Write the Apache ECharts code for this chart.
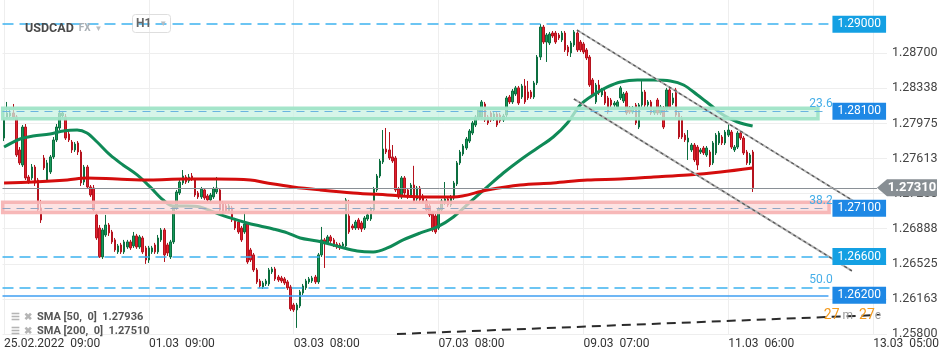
<!DOCTYPE html>
<html><head><meta charset="utf-8">
<script src="https://cdn.jsdelivr.net/npm/echarts@6/dist/echarts.min.js"></script>
<style>html,body{margin:0;padding:0;background:#fff}#c{width:950px;height:360px}</style>
</head><body><div id="c"></div>
<script>
// ---------- data ----------
const instrument = 'USDCAD';
const tickIndex = [0, 47, 94, 141, 188, 235, 282];
const tickLabels = ['25.02.2022  09:00', '01.03  09:00', '03.03  08:00', '07.03  08:00', '09.03  07:00', '11.03  06:00', '13.03  05:00'];
const yTicks = [1.25800, 1.26163, 1.26525, 1.26888, 1.27250, 1.27613, 1.27975, 1.28338, 1.28700];
// [open, close, low, high]
const candles = [
[1.27824,1.28011,1.27793,1.28083],[1.28031,1.28083,1.28021,1.28197],[1.28052,1.28083,1.28031,1.28135],[1.28083,1.28042,1.28021,1.28176],
[1.28042,1.27649,1.27629,1.28062],[1.27701,1.27567,1.27546,1.27731],[1.27546,1.27938,1.27525,1.27959],[1.27938,1.27412,1.27391,1.27969],
[1.27422,1.27381,1.27350,1.27443],[1.27412,1.27525,1.27391,1.27556],[1.27525,1.27360,1.27329,1.27546],[1.27391,1.27081,1.27061,1.27412],
[1.27102,1.26978,1.26947,1.27185],[1.27618,1.27515,1.27494,1.27649],[1.27391,1.27567,1.27370,1.27598],[1.27474,1.27629,1.27453,1.27649],
[1.27629,1.27804,1.27608,1.27835],[1.27804,1.27938,1.27783,1.27969],[1.27928,1.28083,1.27907,1.28114],[1.28052,1.28083,1.28031,1.28104],
[1.28042,1.27824,1.27804,1.28073],[1.27866,1.27804,1.27783,1.27897],[1.27783,1.27701,1.27670,1.27804],[1.27701,1.27762,1.27680,1.27783],
[1.27773,1.27680,1.27649,1.27793],[1.27680,1.27360,1.27329,1.27701],[1.27370,1.27525,1.27339,1.27546],[1.27525,1.27319,1.27298,1.27546],
[1.27319,1.27236,1.27216,1.27339],[1.27308,1.27081,1.27061,1.27339],[1.27030,1.26792,1.26772,1.27061],[1.26895,1.26596,1.26586,1.26926],
[1.26596,1.26875,1.26575,1.26895],[1.26823,1.26926,1.26803,1.27030],[1.26926,1.26844,1.26813,1.26947],[1.26854,1.26751,1.26730,1.26875],
[1.26772,1.26668,1.26648,1.26792],[1.26648,1.26710,1.26627,1.26730],[1.26720,1.26648,1.26627,1.26741],[1.26648,1.26751,1.26627,1.26772],
[1.26699,1.26751,1.26679,1.26772],[1.26751,1.26689,1.26668,1.26772],[1.26710,1.26813,1.26689,1.26854],[1.26813,1.26699,1.26679,1.26834],
[1.26699,1.26803,1.26679,1.26823],[1.26792,1.26648,1.26627,1.26813],[1.26689,1.26565,1.26524,1.26710],[1.26565,1.26689,1.26534,1.26710],
[1.26648,1.26689,1.26627,1.26710],[1.26720,1.26648,1.26627,1.26741],[1.26648,1.26792,1.26627,1.26823],[1.26772,1.26875,1.26751,1.26895],
[1.26875,1.26617,1.26544,1.26895],[1.26720,1.26637,1.26606,1.26741],[1.26596,1.26751,1.26575,1.26772],[1.26751,1.27112,1.26730,1.27133],
[1.27102,1.27267,1.27081,1.27288],[1.27257,1.27370,1.27236,1.27391],[1.27360,1.27432,1.27339,1.27494],[1.27422,1.27370,1.27350,1.27443],
[1.27381,1.27422,1.27360,1.27453],[1.27432,1.27401,1.27381,1.27463],[1.27391,1.27236,1.27216,1.27412],[1.27257,1.27216,1.27195,1.27277],
[1.27216,1.27298,1.27195,1.27319],[1.27288,1.27205,1.27185,1.27308],[1.27226,1.27185,1.27164,1.27246],[1.27185,1.27236,1.27164,1.27257],
[1.27216,1.27298,1.27195,1.27319],[1.27267,1.27308,1.27246,1.27422],[1.27288,1.27081,1.27061,1.27308],[1.27154,1.27050,1.27030,1.27174],
[1.27123,1.27071,1.27050,1.27143],[1.27071,1.27123,1.27050,1.27143],[1.27102,1.26978,1.26957,1.27123],[1.26978,1.26895,1.26875,1.26999],
[1.26957,1.26854,1.26834,1.26978],[1.26895,1.26772,1.26751,1.26916],[1.26854,1.26937,1.26834,1.27061],[1.26937,1.26544,1.26524,1.26957],
[1.26668,1.26565,1.26544,1.26689],[1.26617,1.26462,1.26441,1.26637],[1.26462,1.26338,1.26317,1.26482],[1.26348,1.26296,1.26276,1.26369],
[1.26286,1.26327,1.26265,1.26348],[1.26317,1.26348,1.26296,1.26369],[1.26317,1.26462,1.26296,1.26482],[1.26441,1.26472,1.26420,1.26493],
[1.26472,1.26369,1.26348,1.26493],[1.26389,1.26358,1.26338,1.26410],[1.26379,1.26348,1.26327,1.26400],[1.26369,1.26327,1.26307,1.26389],
[1.26338,1.26276,1.26255,1.26358],[1.26286,1.26059,1.26038,1.26307],[1.26100,1.26049,1.26028,1.26121],[1.26049,1.26100,1.25863,1.26121],
[1.26090,1.26235,1.26069,1.26255],[1.26224,1.26296,1.26203,1.26317],[1.26276,1.26348,1.26255,1.26369],[1.26338,1.26369,1.26317,1.26389],
[1.26348,1.26379,1.26327,1.26400],[1.26389,1.26338,1.26317,1.26410],[1.26338,1.26617,1.26317,1.26637],[1.26617,1.26772,1.26596,1.26906],
[1.26772,1.26741,1.26482,1.26792],[1.26741,1.26803,1.26720,1.26823],[1.26803,1.26761,1.26741,1.26823],[1.26772,1.26720,1.26699,1.26792],
[1.26730,1.26699,1.26679,1.26751],[1.26720,1.26689,1.26668,1.26741],[1.26710,1.26730,1.26679,1.26751],[1.26710,1.27185,1.26689,1.27205],
[1.27019,1.26854,1.26834,1.27185],[1.26916,1.26895,1.26875,1.26937],[1.26895,1.26957,1.26875,1.26978],[1.26978,1.26895,1.26875,1.26999],
[1.26947,1.26885,1.26854,1.26968],[1.26895,1.26999,1.26875,1.27019],[1.26988,1.27030,1.26968,1.27050],[1.26988,1.27092,1.26968,1.27112],
[1.27081,1.27298,1.27061,1.27319],[1.27288,1.27432,1.27267,1.27453],[1.27432,1.27587,1.27412,1.27608],[1.27577,1.27711,1.27556,1.27907],
[1.27711,1.27680,1.27659,1.27928],[1.27701,1.27618,1.27598,1.27886],[1.27629,1.27587,1.27567,1.27752],[1.27618,1.27288,1.27267,1.27639],
[1.27298,1.27216,1.27195,1.27319],[1.27216,1.27412,1.27195,1.27432],[1.27412,1.27257,1.27236,1.27432],[1.27288,1.27216,1.27195,1.27308],
[1.27226,1.27339,1.27205,1.27360],[1.27339,1.27174,1.27154,1.27537],[1.27195,1.27308,1.27174,1.27329],[1.27308,1.27185,1.27164,1.27329],
[1.27226,1.27164,1.27143,1.27246],[1.27174,1.27081,1.27061,1.27195],[1.27123,1.27030,1.27009,1.27143],[1.27050,1.26875,1.26854,1.27071],
[1.27019,1.26854,1.26834,1.27040],[1.26895,1.27092,1.26875,1.27112],[1.27081,1.27174,1.27061,1.27195],[1.27154,1.27195,1.27133,1.27370],
[1.27195,1.27133,1.27112,1.27216],[1.27133,1.27216,1.27112,1.27236],[1.27205,1.27360,1.27185,1.27381],[1.27350,1.27567,1.27329,1.27587],
[1.27567,1.27680,1.27546,1.27701],[1.27659,1.27742,1.27639,1.27762],[1.27721,1.27814,1.27701,1.27835],[1.27793,1.27897,1.27773,1.27917],
[1.27876,1.27980,1.27855,1.28000],[1.27959,1.28042,1.27938,1.28062],[1.28031,1.28114,1.28011,1.28135],[1.28042,1.28197,1.28021,1.28217],
[1.28176,1.28011,1.27990,1.28197],[1.28042,1.27980,1.27959,1.28062],[1.28083,1.28011,1.27990,1.28104],[1.28021,1.28073,1.28000,1.28093],
[1.28073,1.27959,1.27938,1.28093],[1.28062,1.28000,1.27980,1.28083],[1.28011,1.28052,1.27990,1.28073],[1.28062,1.28238,1.28042,1.28259],
[1.28248,1.28197,1.28176,1.28269],[1.28197,1.28310,1.28176,1.28331],[1.28279,1.28342,1.28259,1.28362],[1.28342,1.28186,1.28166,1.28362],
[1.28248,1.28362,1.28228,1.28383],[1.28362,1.28197,1.28176,1.28434],[1.28300,1.28238,1.28217,1.28414],[1.28300,1.28248,1.28228,1.28321],
[1.28248,1.28393,1.28228,1.28414],[1.28393,1.28661,1.28372,1.28682],[1.28661,1.28971,1.28630,1.29002],[1.28971,1.28816,1.28796,1.28992],
[1.28816,1.28889,1.28610,1.28909],[1.28806,1.28899,1.28785,1.28920],[1.28909,1.28878,1.28858,1.28930],[1.28909,1.28816,1.28796,1.28930],
[1.28889,1.28858,1.28837,1.28909],[1.28837,1.28909,1.28816,1.28930],[1.28909,1.28734,1.28713,1.28930],[1.28765,1.28713,1.28672,1.28785],
[1.28703,1.28806,1.28661,1.28827],[1.28785,1.28920,1.28765,1.28940],[1.28909,1.28734,1.28713,1.28930],[1.28816,1.28734,1.28713,1.28837],
[1.28796,1.28713,1.28692,1.28816],[1.28734,1.28651,1.28630,1.28754],[1.28661,1.28372,1.28352,1.28682],[1.28424,1.28269,1.28248,1.28444],
[1.28197,1.28372,1.28176,1.28393],[1.28372,1.28290,1.28269,1.28424],[1.28269,1.28321,1.28248,1.28342],[1.28300,1.28186,1.28166,1.28321],
[1.28238,1.28093,1.28073,1.28259],[1.28217,1.28166,1.28145,1.28238],[1.28166,1.28186,1.28145,1.28207],[1.28145,1.28197,1.28124,1.28217],
[1.28238,1.28342,1.28217,1.28362],[1.28207,1.28279,1.28186,1.28300],[1.28290,1.28083,1.28062,1.28310],[1.28135,1.28093,1.28073,1.28155],
[1.28093,1.28135,1.28073,1.28155],[1.28166,1.27980,1.27959,1.28186],[1.27938,1.28166,1.27917,1.28186],[1.28166,1.28300,1.28145,1.28424],
[1.28300,1.28166,1.28145,1.28321],[1.28166,1.28197,1.28145,1.28217],[1.28197,1.28083,1.28062,1.28217],[1.28083,1.28114,1.28062,1.28135],
[1.28217,1.28083,1.28062,1.28238],[1.28083,1.28145,1.28062,1.28166],[1.28135,1.27938,1.27917,1.28155],[1.28114,1.28321,1.28093,1.28342],
[1.28321,1.28145,1.28124,1.28342],[1.28186,1.28238,1.28166,1.28290],[1.28321,1.28062,1.28042,1.28342],[1.28083,1.27835,1.27814,1.28104],
[1.28031,1.27835,1.27814,1.28052],[1.27855,1.27804,1.27783,1.27876],[1.27783,1.27824,1.27598,1.27907],[1.27701,1.27752,1.27680,1.27773],
[1.27752,1.27598,1.27577,1.27773],[1.27731,1.27546,1.27494,1.27752],[1.27680,1.27701,1.27659,1.27721],[1.27721,1.27670,1.27649,1.27742],
[1.27649,1.27721,1.27629,1.27742],[1.27680,1.27546,1.27525,1.27701],[1.27567,1.27773,1.27546,1.27793],[1.27670,1.27855,1.27649,1.27876],
[1.27773,1.27876,1.27752,1.27897],[1.27835,1.27773,1.27752,1.27855],[1.27773,1.27886,1.27752,1.27907],[1.27855,1.27907,1.27835,1.27969],
[1.27886,1.27731,1.27711,1.27907],[1.27701,1.27731,1.27680,1.27752],[1.27731,1.27876,1.27711,1.27897],[1.27876,1.27824,1.27804,1.27897],
[1.27824,1.27670,1.27649,1.27845],[1.27680,1.27567,1.27546,1.27701],[1.27567,1.27649,1.27546,1.27670],[1.27680,1.27310,1.27267,1.27701]
];
// [bar index, value]
const sma50 = [[0,1.27731],[5.2,1.27814],[9.4,1.27845],[14.9,1.27866],[19.2,1.27897],[23.7,1.27907],[26.9,1.27876],[30.2,1.27783],
[34.4,1.27649],[38.6,1.27546],[43.2,1.27443],[47.4,1.27319],[51.6,1.27185],[54.9,1.27123],[59.4,1.27123],[63.6,1.27112],[67.9,1.27061],
[73.4,1.26999],[78.9,1.26947],[83.1,1.26916],[87.3,1.26885],[91.9,1.26844],[96.1,1.26792],[101.6,1.26761],[109.1,1.26699],[114.6,1.26658],
[119.8,1.26648],[124.4,1.26689],[129.5,1.26772],[135.1,1.26844],[140.6,1.26906],[145.8,1.27009],[151.3,1.27164],[156.8,1.27319],
[162,1.27463],[167.5,1.27598],[173.1,1.27721],[178.2,1.27835],[182.8,1.27980],[187,1.28166],[191.2,1.28269],[195.8,1.28352],[200,1.28403],
[205.5,1.28424],[210.7,1.28424],[216.2,1.28414],[220.5,1.28372],[225,1.28269],[229.2,1.28166],[233.4,1.28062],[238,1.27990],[242.9,1.27948]];
const sma200 = [[0,1.27360],[9.4,1.27370],[20.5,1.27391],[26.9,1.27412],[36.7,1.27401],[47.4,1.27391],[58.1,1.27401],[69.2,1.27401],
[79.9,1.27391],[85.4,1.27360],[93.8,1.27319],[102.6,1.27288],[113.3,1.27257],[124.4,1.27236],[135.1,1.27216],[145.8,1.27216],
[156.8,1.27288],[167.5,1.27339],[178.2,1.27360],[189.3,1.27391],[200,1.27401],[210.7,1.27422],[221.8,1.27443],[232.5,1.27474],[242.9,1.27515]];
const levels = [1.29000, 1.28100, 1.27100, 1.26600, 1.26200];
const fibValues = [1.28100, 1.27100, 1.26280];
const fibLabels = ['23.6', '38.2', '50.0'];
const greenZone = [1.28132, 1.28024];
const redZone = [1.27161, 1.27054];
const channelUpper = [[185.9, 1.28940], [277.2, 1.27143]];
const channelLower = [[184.9, 1.28228], [275.1, 1.26452]];
const supportLine = [[127.5, 1.25800], [284.2, 1.25997]];
const smaLegend = [['SMA [50,  0]', '1.27936'], ['SMA [200,  0]', '1.27510']];
const timerText = ['27', 'm', '27', 'e'];

// ---------- layout helpers ----------
const N = 287;
const lastPrice = candles[candles.length - 1][1];
const levelEnd = 267.5, fib50End = 269.5, lastLineEnd = 283.25;
const zoneStart = -0.45, greenZoneEnd = 264.1, redZoneEnd = 267.7;
const fibLabelAt = 265.1;
const FONT = 'Roboto';

const lvlStyle = [
  {type: [11, 6], color: '#3db2ef', tag: '#14a0e3', width: 1.5},
  {type: [8, 6], color: '#6ab4e0', tag: '#1e88e5', width: 1.2},
  {type: [8, 6], color: '#8fa6c4', tag: '#1e88e5', width: 1.2},
  {type: [11, 6], color: '#3db2ef', tag: '#14a0e3', width: 1.5},
  {type: 'solid', color: '#3f9ff2', tag: '#1e88e5', width: 1.5}
];

const levelLines = levels.map((v, k) => [
  {coord: [-0.5, v], lineStyle: {color: lvlStyle[k].color, type: lvlStyle[k].type, width: lvlStyle[k].width},
   label: {show: true, position: 'end', distance: 4, formatter: v.toFixed(5), color: '#fff',
           backgroundColor: lvlStyle[k].tag, padding: [3, 5, 2, 5], fontSize: 12, fontFamily: FONT}},
  {coord: [levelEnd, v]}
]);
levelLines.push([
  {coord: [-0.5, fibValues[2]], lineStyle: {color: '#3db2ef', type: [11, 6], width: 1.5}, label: {show: false}},
  {coord: [fib50End, fibValues[2]]}
]);
levelLines.push([
  {coord: [-0.5, lastPrice], lineStyle: {color: '#8a9096', type: 'solid', width: 1}, label: {show: false}},
  {coord: [lastLineEnd, lastPrice]}
]);

const fibPoints = fibValues.map((v, k) => ({
  coord: [fibLabelAt, v], symbol: 'circle', symbolSize: 1, itemStyle: {color: 'rgba(0,0,0,0)'},
  label: {show: true, position: 'top', distance: 1, formatter: fibLabels[k], color: '#45aee8', fontSize: 12, fontFamily: FONT}
}));
const priceTag = {
  coord: [lastLineEnd, lastPrice], symbol: 'path://M0,8L10,0L60,0L60,16L10,16Z', symbolSize: [60, 17], symbolOffset: [30, 0],
  symbolKeepAspect: false, itemStyle: {color: '#878e93'},
  label: {show: true, position: 'inside', offset: [5, 0], formatter: lastPrice.toFixed(5), color: '#fff', fontWeight: 'bold', fontSize: 13, fontFamily: FONT}
};

const chart = echarts.init(document.getElementById('c'), null, {renderer: 'canvas'});
chart.setOption({
  animation: false,
  backgroundColor: '#fff',
  textStyle: {fontFamily: FONT},
  title: [
    {left: 20, top: 17, text: '{a|' + instrument + '}{b|  FX}{c|  ▼}',
     textStyle: {rich: {a: {fontSize: 12.5, fontWeight: 'bold', color: '#4a4a4a', fontFamily: FONT},
                        b: {fontSize: 10, color: '#aab0b5', fontFamily: FONT}, c: {fontSize: 8, color: '#b8bcc0'}}}},
    {left: 132, top: 14, text: '{a|H1}{c|    ▼}', borderColor: '#dedede', borderWidth: 1, borderRadius: 3, padding: [4, 4, 3, 4],
     textStyle: {rich: {a: {fontSize: 12, color: '#666', fontFamily: FONT}, c: {fontSize: 8, color: '#b8bcc0'}}}},
    {left: 6, top: 305,
     text: smaLegend.map(r => '{i|☰} {x|✖} {t|' + r[0] + '  ' + r[1] + '}').join('\n'),
     textStyle: {lineHeight: 14, rich: {i: {fontSize: 10, color: '#b5b5b5', lineHeight: 14}, x: {fontSize: 10, color: '#b5b5b5', lineHeight: 14},
                 t: {fontSize: 11, color: '#555', fontFamily: FONT, lineHeight: 14}}}}
  ],
  grid: {left: 2.5, right: 63, top: 0, bottom: 26},
  xAxis: [
    {type: 'category', data: Array.from({length: N}, (_, i) => i), boundaryGap: true, show: false, position: 'bottom'},
    {type: 'value', min: -0.5, max: N - 0.5, position: 'bottom',
     axisLine: {show: false}, axisTick: {show: false, customValues: tickIndex},
     axisLabel: {customValues: tickIndex, formatter: v => tickLabels[tickIndex.indexOf(Math.round(v))] || '',
                 align: 'left', color: '#333', fontSize: 12, margin: 4, fontFamily: FONT},
     splitLine: {show: true, lineStyle: {color: '#eeeeee', width: 1}}}
  ],
  yAxis: {type: 'value', position: 'right', min: 1.258, max: 1.2925, scale: true,
    axisLine: {show: false}, axisTick: {show: false, customValues: yTicks},
    axisLabel: {customValues: yTicks, formatter: v => v.toFixed(5), color: '#444', fontSize: 12.5, margin: 5, fontFamily: FONT},
    splitLine: {show: true, lineStyle: {color: '#eeeeee', width: 1}}},
  series: [
    {type: 'candlestick', xAxisIndex: 0, yAxisIndex: 0, data: candles, barWidth: 2, z: 2,
     itemStyle: {color: '#17995a', color0: '#e2202e', borderColor: '#0c6e3f', borderColor0: '#b5131e', borderWidth: 1}},
    {type: 'line', name: 'SMA50', xAxisIndex: 1, data: sma50, showSymbol: false, symbol: 'none', smooth: 0.35, z: 3,
     lineStyle: {color: '#0f8a57', width: 3}},
    {type: 'line', name: 'SMA200', xAxisIndex: 1, data: sma200, showSymbol: false, symbol: 'none', smooth: 0.35, z: 3,
     lineStyle: {color: '#d40d0d', width: 3}},
    {type: 'line', xAxisIndex: 1, data: [], z: 4, clip: false,
     markArea: {silent: true, z: 4, data: [
       [{coord: [zoneStart, greenZone[0]], itemStyle: {color: 'rgba(200,242,225,0.75)', borderColor: 'rgba(160,228,199,0.95)', borderWidth: 3.5}},
        {coord: [greenZoneEnd, greenZone[1]]}],
       [{coord: [zoneStart, redZone[0]], itemStyle: {color: 'rgba(252,218,218,0.75)', borderColor: 'rgba(247,180,180,0.95)', borderWidth: 3.5}},
        {coord: [redZoneEnd, redZone[1]]}]
     ]}},
    {type: 'line', xAxisIndex: 1, data: channelUpper, showSymbol: false, symbol: 'none', z: 5, lineStyle: {color: '#b3b3b3', width: 2}},
    {type: 'line', xAxisIndex: 1, data: channelUpper, showSymbol: false, symbol: 'none', z: 5, lineStyle: {color: '#555', width: 1.2, type: [3, 3]}},
    {type: 'line', xAxisIndex: 1, data: channelLower, showSymbol: false, symbol: 'none', z: 5, lineStyle: {color: '#b3b3b3', width: 2}},
    {type: 'line', xAxisIndex: 1, data: channelLower, showSymbol: false, symbol: 'none', z: 5, lineStyle: {color: '#555', width: 1.2, type: [3, 3]}},
    {type: 'line', xAxisIndex: 1, data: supportLine, showSymbol: false, symbol: 'none', z: 5, clip: false,
     lineStyle: {color: '#2b2b2b', width: 2, type: [9, 6]},
     markPoint: {z: 7, silent: true, data: [{
       coord: [275.3, 1.25987], symbol: 'circle', symbolSize: 1, itemStyle: {color: 'rgba(0,0,0,0)'},
       label: {show: true, position: 'inside', formatter: '{o|' + timerText[0] + '}{g| ' + timerText[1] + '  }{o|' + timerText[2] + '}{g|' + timerText[3] + '}',
               rich: {o: {color: '#f39a1e', fontSize: 14, fontFamily: FONT}, g: {color: '#9a9a9a', fontSize: 12, fontFamily: FONT}}}
     }]}},
    {type: 'line', xAxisIndex: 1, data: [], z: 6, clip: false,
     markLine: {silent: true, z: 6, symbol: ['none', 'none'], label: {show: false}, data: levelLines},
     markPoint: {silent: true, z: 7, data: fibPoints.concat([priceTag])}}
  ]
});
</script></body></html>
